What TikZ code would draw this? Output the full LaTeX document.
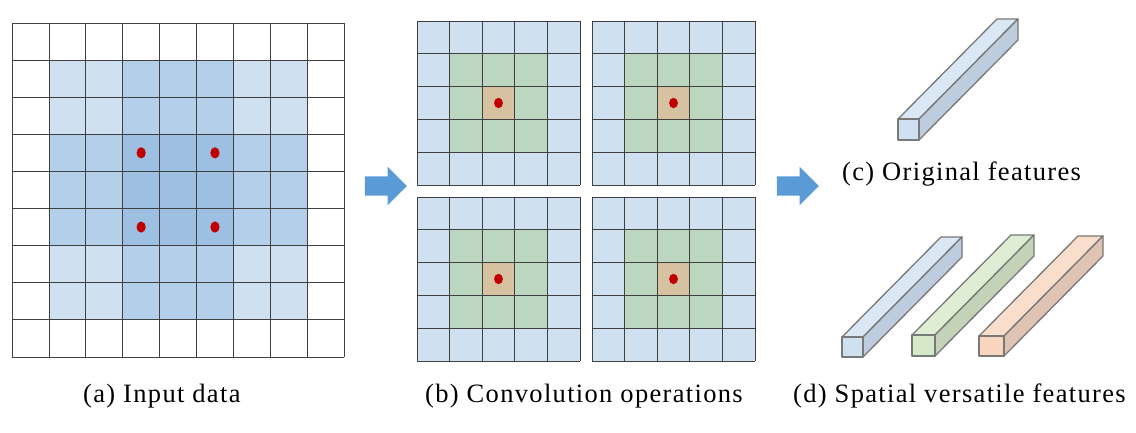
\documentclass[tikz,border=0pt]{standalone}
\usepackage{fontspec}
\setmainfont{Liberation Serif}
\newfontfamily\capfont[LetterSpace=5]{Liberation Serif}
\usepackage{tikz}
\usetikzlibrary{shapes.arrows}

\definecolor{winblue}{RGB}{146,185,223}
\definecolor{cellblue}{RGB}{207,224,241}
\definecolor{cellgreen}{RGB}{187,215,191}
\definecolor{celltan}{RGB}{214,194,160}
\definecolor{dotred}{RGB}{192,0,0}
\definecolor{arrowblue}{RGB}{91,155,213}
\definecolor{edgegray}{RGB}{120,120,120}
\definecolor{blueF}{RGB}{207,224,241}
\definecolor{blueT}{RGB}{218,232,246}
\definecolor{blueS}{RGB}{189,205,221}
\definecolor{greenF}{RGB}{213,232,200}
\definecolor{greenT}{RGB}{222,237,212}
\definecolor{greenS}{RGB}{196,210,183}
\definecolor{orangeF}{RGB}{248,213,188}
\definecolor{orangeT}{RGB}{249,222,204}
\definecolor{orangeS}{RGB}{223,196,180}

\tikzset{
  gridline/.style={draw=black!75, line width=0.7pt},
  caption/.style={anchor=base west, inner sep=0pt, font=\capfont\fontsize{26.5}{31}\selectfont},
  blockarrow/.style={single arrow, fill=arrowblue, draw=none, inner xsep=0pt,
    inner ysep=9.5pt, minimum height=42pt, single arrow head extend=9.5pt,
    single arrow head indent=0pt},
  barline/.style={draw=edgegray, line width=1.3pt, line join=round}
}

% feature bar: front top-left x, y, width, height, colour prefix
\newcommand{\featbar}[5]{%
  \filldraw[barline, fill=#5T] (#1,#2) -- ++(99,-100) -- ++(#3,0) -- ++(-99,100) -- cycle;
  \filldraw[barline, fill=#5S] (#1+#3,#2) -- ++(99,-100) -- ++(0,#4) -- ++(-99,100) -- cycle;
  \filldraw[barline, fill=#5F] (#1,#2) rectangle ++(#3,#4);
}

\begin{document}
\begin{tikzpicture}[x=1pt, y=-1pt]
  \useasboundingbox (0,0) rectangle (1136,433);

  % (a) input data
  \begin{scope}[shift={(12,23)}, x=36.9pt, y=-37.1pt]
    \foreach \i/\j in {3/3,5/3,3/5,5/5}
      \fill[winblue, fill opacity=0.44] (\i-2,\j-2) rectangle (\i+3,\j+3);
    \foreach \k in {0,...,9} {
      \draw[gridline] (\k,0) -- (\k,9);
      \draw[gridline] (0,\k) -- (9,\k);
    }
    \foreach \i/\j in {3/3,5/3,3/5,5/5}
      \fill[dotred] (\i+0.5,\j+0.5) ellipse [x radius=4.6pt, y radius=5.6pt];
  \end{scope}

  % (b) convolution operations
  \foreach \ox/\oy in {417/21, 592/21, 417/197, 592/197} {
    \begin{scope}[shift={(\ox,\oy)}, x=32.6pt, y=-32.8pt]
      \fill[cellblue] (0,0) rectangle (5,5);
      \fill[cellgreen] (1,1) rectangle (4,4);
      \fill[celltan] (2,2) rectangle (3,3);
      \foreach \k in {0,...,5} {
        \draw[gridline] (\k,0) -- (\k,5);
        \draw[gridline] (0,\k) -- (5,\k);
      }
      \fill[dotred] (2.5,2.5) ellipse [x radius=4.4pt, y radius=5.2pt];
    \end{scope}
  }

  \node[blockarrow] (arrA) at (381,186) {};
  \node[blockarrow] (arrB) at (793,186) {};

  % (c) and (d) feature bars
  \featbar{898}{119}{21}{21}{blue}
  \featbar{842}{337}{21}{20}{blue}
  \featbar{912}{335}{23}{21}{green}
  \featbar{979}{336}{25}{20}{orange}

  \node[caption] (capA) at (83,402) {(a) Input data};
  \node[caption] (capB) at (425,402) {(b) Convolution operations};
  \node[caption] (capC) at (842,181) {(c) Original features};
  \node[caption] (capD) at (793,402) {(d) Spatial versatile features};
\end{tikzpicture}
\end{document}
